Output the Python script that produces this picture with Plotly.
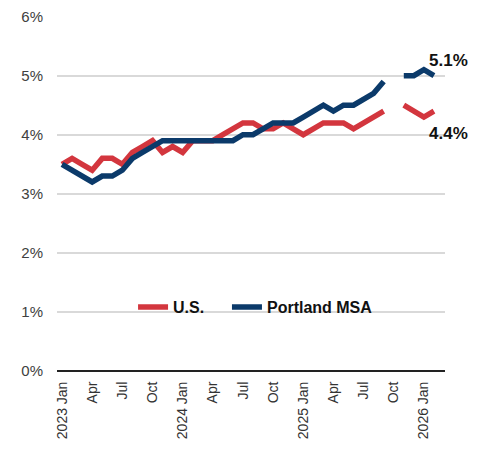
import plotly.graph_objects as go

months = ["Jan", "Feb", "Mar", "Apr", "May", "Jun", "Jul", "Aug", "Sep", "Oct", "Nov", "Dec"]
periods = [f"{y} {m}" for y in (2023, 2024, 2025) for m in months] + ["2026 Jan", "2026 Feb"]

us = [3.5, 3.6, 3.5, 3.4, 3.6, 3.6, 3.5, 3.7, 3.8, 3.9, 3.7, 3.8,
      3.7, 3.9, 3.9, 3.9, 4.0, 4.1, 4.2, 4.2, 4.1, 4.1, 4.2, 4.1,
      4.0, 4.1, 4.2, 4.2, 4.2, 4.1, 4.2, 4.3, 4.4, None, 4.5, 4.4,
      4.3, 4.4]
portland = [3.5, 3.4, 3.3, 3.2, 3.3, 3.3, 3.4, 3.6, 3.7, 3.8, 3.9, 3.9,
            3.9, 3.9, 3.9, 3.9, 3.9, 3.9, 4.0, 4.0, 4.1, 4.2, 4.2, 4.2,
            4.3, 4.4, 4.5, 4.4, 4.5, 4.5, 4.6, 4.7, 4.9, None, 5.0, 5.0,
            5.1, 5.0]

tick_idx = list(range(0, 37, 3))
tick_text = [periods[i] if periods[i].endswith("Jan") else periods[i].split(" ")[1] for i in tick_idx]
y_ticks = [0, 1, 2, 3, 4, 5, 6]
y_labels = [f"{v}%" for v in y_ticks]

x = list(range(len(periods)))

RED = "#D3363E"
BLUE = "#0B3A6A"

fig = go.Figure()
fig.add_trace(go.Scatter(x=x, y=[v / 100 if v is not None else None for v in us],
                         mode="lines", name="U.S.\u00a0\u00a0\u00a0\u00a0",
                         line=dict(color=RED, width=5.5), connectgaps=False,
                         text=periods, hoverinfo="text+y"))
fig.add_trace(go.Scatter(x=x, y=[v / 100 if v is not None else None for v in portland],
                         mode="lines", name="Portland MSA",
                         line=dict(color=BLUE, width=5.5), connectgaps=False,
                         text=periods, hoverinfo="text+y"))

fig.add_annotation(x=x[-1], y=portland[-1] / 100, text="<b>5.1%</b>", showarrow=False,
                   xanchor="center", yanchor="middle", xshift=15, yshift=15,
                   font=dict(family="Liberation Sans, Arial", size=17, color="#111111"))
fig.add_annotation(x=x[-1], y=us[-1] / 100, text="<b>4.4%</b>", showarrow=False,
                   xanchor="center", yanchor="middle", xshift=15, yshift=-22,
                   font=dict(family="Liberation Sans, Arial", size=17, color="#111111"))

fig.update_layout(
    width=484, height=453,
    margin=dict(l=49, r=47, t=8, b=90, autoexpand=False),
    paper_bgcolor="white", plot_bgcolor="white",
    font=dict(family="Liberation Sans, Arial", size=14, color="#404040"),
    showlegend=True,
    legend=dict(orientation="h", x=0.196, xanchor="left", y=0.18, yanchor="middle",
                bgcolor="rgba(0,0,0,0)", font=dict(size=16, color="#111111", weight="bold"),
                tracegroupgap=0),
    xaxis=dict(range=[-0.5, 38.1], tickmode="array", tickvals=tick_idx, ticktext=tick_text,
               tickangle=-90, showgrid=False, zeroline=False, showline=False, automargin=False,
               ticks="outside", ticklen=4, tickcolor="rgba(0,0,0,0)",
               tickfont=dict(size=14, color="#333333")),
    yaxis=dict(range=[0, 0.0601], tickmode="array", tickvals=[v / 100 for v in y_ticks],
               ticktext=y_labels, showgrid=True, gridcolor="#D9D9D9", gridwidth=1.5,
               zeroline=True, zerolinecolor="#222222", zerolinewidth=2, automargin=False,
               showline=False, ticks="outside", ticklen=10, tickcolor="rgba(0,0,0,0)",
               ticklabeloverflow="allow",
               tickfont=dict(size=15, color="#404040")),
)

fig.write_html("out.html")
